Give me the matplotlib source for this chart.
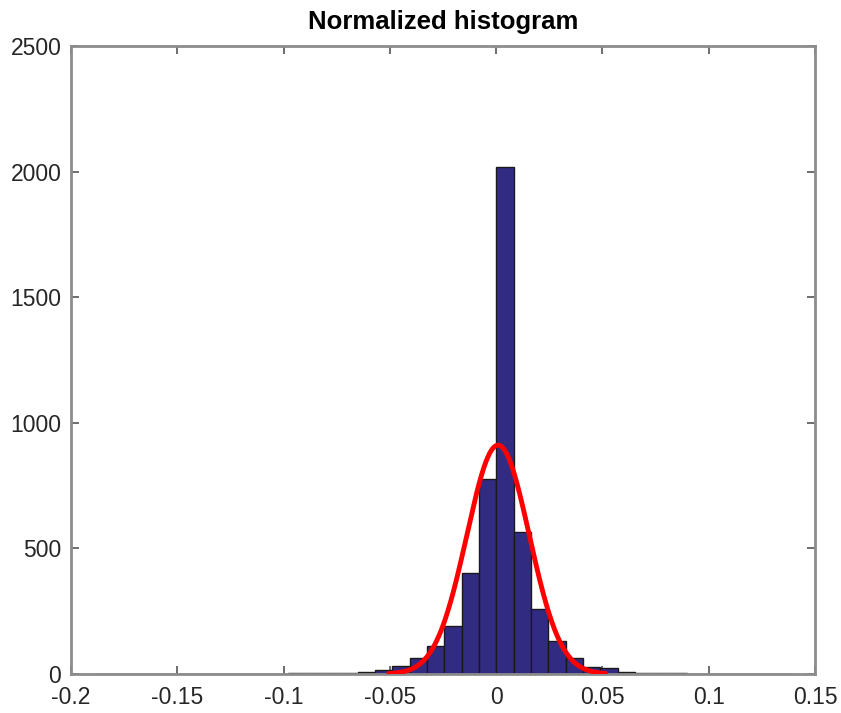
import numpy as np
import matplotlib
matplotlib.use('Agg')
import matplotlib.pyplot as plt

plt.rcParams['font.family'] = ['Liberation Sans', 'DejaVu Sans']

# histogram: 40 equal bins between the data extremes
bin_lo = -0.18753
bin_hi = 0.13879
counts = [
    1, 0, 0, 0, 0, 0, 1, 1, 0, 0,
    0, 2, 2, 4, 3, 9, 17, 30, 62, 113,
    192, 402, 776, 2020, 564, 259, 131, 65, 28, 22,
    8, 3, 2, 2, 1, 0, 0, 0, 0, 1,
]

# fitted normal curve
fit_mu = 0.0009
fit_sigma = 0.0147
fit_peak = 911
fit_range = (-0.0505, 0.0515)

x_ticks = [-0.2, -0.15, -0.1, -0.05, 0, 0.05, 0.1, 0.15]
x_labels = ['-0.2', '-0.15', '-0.1', '-0.05', '0', '0.05', '0.1', '0.15']
y_ticks = [0, 500, 1000, 1500, 2000, 2500]


def main():
    fig = plt.figure(figsize=(8.41, 7.13), dpi=100)
    ax = fig.add_axes([0.0844, 0.0547, 0.8847, 0.8808])

    edges = np.linspace(bin_lo, bin_hi, len(counts) + 1)
    ax.bar(edges[:-1], counts, width=np.diff(edges), align='edge',
           color='#322b82', edgecolor='#1a1a1a', linewidth=1.0, zorder=2)

    xs = np.linspace(fit_range[0], fit_range[1], 300)
    ys = fit_peak * np.exp(-0.5 * ((xs - fit_mu) / fit_sigma) ** 2)
    ax.plot(xs, ys, color='#ff0000', linewidth=3.5, zorder=3,
            solid_capstyle='round')

    ax.set_xlim(-0.2, 0.15)
    ax.set_ylim(0, 2500)
    ax.set_xticks(x_ticks)
    ax.set_xticklabels(x_labels)
    ax.set_yticks(y_ticks)
    ax.tick_params(direction='in', length=6, width=1.2, color='#555555',
                   labelsize=16.5, labelcolor='#262626', top=True, right=True)
    ax.tick_params(axis='x', pad=9)
    ax.tick_params(axis='y', pad=7)
    for spine in ax.spines.values():
        spine.set_color('#8c8c8c')
        spine.set_linewidth(2)

    ax.set_title('Normalized histogram', fontsize=18.5, fontweight='bold',
                 pad=12)

    fig.savefig('out.png', dpi=100)


if __name__ == '__main__':
    main()
